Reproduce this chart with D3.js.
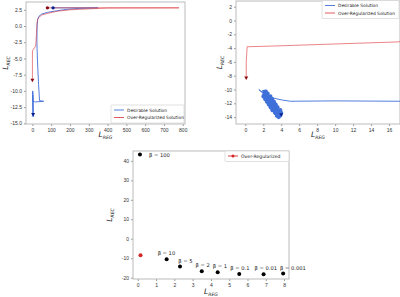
<!DOCTYPE html>
<html>
<head>
<meta charset="utf-8">
<script src="https://cdn.jsdelivr.net/npm/d3@7"></script>
<style>
  body { margin: 0; background: #fff; }
  svg { font-family: "DejaVu Sans", sans-serif; }
</style>
</head>
<body>
<svg id="drawing_region" width="400" height="297"></svg>
<script>
// trajectory points [L_REG, L_REC]
const desirablePath = [
  [110, 2.8], [350, 2.8], [250, 2.72], [180, 2.55], [130, 2.35], [80, 2.1], [50, 1.85],
  [35, 1.5], [28, 1.0], [25, 0], [24, -2.5], [25, -3.5], [28, -6], [33, -9], [38, -11.5],
  [60, -11.6], [17, -11.7], [10, -11.65], [5, -11.7], [4, -11.5], [3, -11.2], [2, -10.6],
  [1.5, -10], [1.9, -10.4]
];
// the noisy end of the desirable run (drawn thicker)
const desirableBand = [
  [1.9, -10.4], [2.3, -10.3], [2.0, -11.0], [2.5, -10.6], [2.2, -11.4],
  [2.8, -11.0], [2.4, -11.8], [3.0, -11.4], [2.6, -12.2], [3.2, -11.8], [2.8, -12.6],
  [3.4, -12.2], [3.0, -13.0], [3.6, -12.6], [3.3, -13.4], [3.9, -13.0], [3.5, -13.8],
  [4.0, -13.4], [3.7, -14.0], [4.0, -13.6]
];
const overRegPath = [
  [80, 2.8], [780, 2.8], [400, 2.78], [200, 2.5], [140, 2.3], [95, 2.05], [50, 1.7],
  [30, 1.2], [25, 0.5], [22, -1], [19, -2.5], [17, -3.1], [10, -3.4], [3, -3.7],
  [0.2, -3.8], [0.1, -6], [0.1, -8.3]
];

// beta sweep
const betaLabels = ['β = 100', 'β = 10', 'β = 5', 'β = 2', 'β = 1', 'β = 0.1', 'β = 0.01', 'β = 0.001'];
const betaReg = [0.12, 1.58, 2.31, 3.5, 4.37, 5.55, 6.88, 7.95];
const betaRec = [43.3, -10.5, -14.3, -16.7, -17.2, -18.1, -18.3, -17.9];
const overRegPoint = [0.15, -8.5];

const ticks1x = [0, 100, 200, 300, 400, 500, 600, 700, 800];
const ticks1y = [2.5, 0, -2.5, -5, -7.5, -10, -12.5, -15];
const ticks2x = [0, 2, 4, 6, 8, 10, 12, 14, 16];
const ticks2y = [2, 0, -2, -4, -6, -8, -10, -12, -14];
const ticks3x = [0, 1, 2, 3, 4, 5, 6, 7, 8];
const ticks3y = [40, 30, 20, 10, 0, -10, -20];

const BLUE = '#3f6fd9', RED = '#e0474c';
const svg = d3.select('#drawing_region');

function makePanel(cfg) {
  const g = svg.append('g');
  const x = d3.scaleLinear().domain(cfg.xDomain).range([cfg.left, cfg.right]);
  const y = d3.scaleLinear().domain(cfg.yDomain).range([cfg.bottom, cfg.top]);

  const xAxis = g.append('g')
    .attr('transform', `translate(0,${cfg.bottom})`)
    .call(d3.axisBottom(x).tickValues(cfg.xTicks).tickSize(2).tickPadding(2).tickFormat(cfg.xFmt || d3.format('d')));
  const yAxis = g.append('g')
    .attr('transform', `translate(${cfg.left},0)`)
    .call(d3.axisLeft(y).tickValues(cfg.yTicks).tickSize(2).tickPadding(2).tickFormat(cfg.yFmt || d3.format('d')));
  [xAxis, yAxis].forEach(a => {
    a.select('.domain').remove();
    a.selectAll('line').attr('stroke', '#555').attr('stroke-width', 0.6);
    a.selectAll('text').attr('font-size', 5).attr('fill', '#333')
      .text(function () { return d3.select(this).text().replace('−', '-'); });
  });

  g.append('rect')
    .attr('x', cfg.left).attr('y', cfg.top)
    .attr('width', cfg.right - cfg.left).attr('height', cfg.bottom - cfg.top)
    .attr('fill', 'none').attr('stroke', '#bbb').attr('stroke-width', 1);

  const clipId = 'clip' + cfg.id;
  g.append('clipPath').attr('id', clipId).append('rect')
    .attr('x', cfg.left).attr('y', cfg.top)
    .attr('width', cfg.right - cfg.left).attr('height', cfg.bottom - cfg.top);
  const plot = g.append('g').attr('clip-path', `url(#${clipId})`);

  // axis titles
  const yl = g.append('text')
    .attr('transform', `translate(${cfg.yLabelX},${(cfg.top + cfg.bottom) / 2}) rotate(-90)`)
    .attr('text-anchor', 'middle').attr('fill', '#222');
  yl.append('tspan').attr('font-style', 'italic').attr('font-size', 7.5).text('L');
  yl.append('tspan').attr('font-style', 'italic').attr('font-size', 4.6).attr('dy', 1.5).text('REC');
  const xl = g.append('text')
    .attr('x', (cfg.left + cfg.right) / 2).attr('y', cfg.xLabelY)
    .attr('text-anchor', 'middle').attr('fill', '#222');
  xl.append('tspan').attr('font-style', 'italic').attr('font-size', 7.5).text('L');
  xl.append('tspan').attr('font-style', 'italic').attr('font-size', 4.6).attr('dy', 1.5).text('REG');

  return { g, plot, x, y };
}

function drawTrajectories(p, showStart, bandWidth) {
  const line = d3.line().x(d => p.x(d[0])).y(d => p.y(d[1]));
  p.plot.append('path').datum(desirablePath)
    .attr('d', line).attr('fill', 'none').attr('stroke', BLUE)
    .attr('stroke-width', 0.9).attr('stroke-linejoin', 'round');
  p.plot.append('path').datum(desirableBand)
    .attr('d', line).attr('fill', 'none').attr('stroke', BLUE)
    .attr('stroke-width', bandWidth).attr('stroke-linejoin', 'round');
  p.plot.append('path').datum(overRegPath)
    .attr('d', line).attr('fill', 'none').attr('stroke', RED).attr('stroke-opacity', 0.75)
    .attr('stroke-width', 0.9).attr('stroke-linejoin', 'round');

  const ends = [
    { first: desirablePath[0], last: desirableBand[desirableBand.length - 1], c: '#0a1f8f' },
    { first: overRegPath[0], last: overRegPath[overRegPath.length - 1], c: '#8b0a14' }
  ];
  ends.forEach(e => {
    p.plot.append('path')
      .attr('d', d3.symbol(d3.symbolTriangle, 7)())
      .attr('transform', `translate(${p.x(e.last[0])},${p.y(e.last[1])}) rotate(180)`)
      .attr('fill', e.c);
    if (showStart) {
      p.plot.append('circle')
        .attr('cx', p.x(e.first[0])).attr('cy', p.y(e.first[1])).attr('r', 1.7)
        .attr('fill', e.c);
    }
  });
}

function legend(g, x0, y0, w, items, fs) {
  const h = items.length * 7.5 + 3;
  g.append('rect').attr('x', x0).attr('y', y0).attr('width', w).attr('height', h)
    .attr('fill', '#fff').attr('stroke', '#ccc').attr('stroke-width', 0.6).attr('rx', 1);
  items.forEach((it, i) => {
    const yy = y0 + 5 + i * 7.5;
    g.append('line').attr('x1', x0 + 3).attr('x2', x0 + 13).attr('y1', yy).attr('y2', yy)
      .attr('stroke', it.color).attr('stroke-width', 0.9);
    if (it.marker) {
      g.append('circle').attr('cx', x0 + 8).attr('cy', yy).attr('r', 1.5).attr('fill', it.color);
    }
    g.append('text').attr('x', x0 + 16).attr('y', yy + 1.6).attr('font-size', fs)
      .attr('fill', '#222').text(it.label);
  });
}

// panel 1: full trajectories
const p1 = makePanel({
  id: 1, left: 26, right: 185, top: 2, bottom: 124,
  xDomain: [-34, 812], yDomain: [-15.1, 3.7],
  xTicks: ticks1x, yTicks: ticks1y, yFmt: d3.format('.1f'),
  yLabelX: 8, xLabelY: 137
});
drawTrajectories(p1, true, 0.9);
legend(p1.g, 111, 105, 73, [
  { label: 'Desirable Solution', color: BLUE },
  { label: 'Over-Regularized Solution', color: RED }
], 4.4);

// panel 2: zoom near the origin
const p2 = makePanel({
  id: 2, left: 236, right: 400, top: 1, bottom: 124,
  xDomain: [-1.04, 17.22], yDomain: [-15, 2.83],
  xTicks: ticks2x, yTicks: ticks2y,
  yLabelX: 222, xLabelY: 137
});
drawTrajectories(p2, false, 4);
legend(p2.g, 322, 0.5, 77, [
  { label: 'Desirable Solution', color: BLUE },
  { label: 'Over-Regularized Solution', color: RED }
], 4.4);

// panel 3: beta sweep
const p3 = makePanel({
  id: 3, left: 133, right: 289, top: 151, bottom: 279,
  xDomain: [-0.26, 8.27], yDomain: [-20.7, 45.1],
  xTicks: ticks3x, yTicks: ticks3y,
  yLabelX: 112, xLabelY: 294
});
p3.plot.selectAll('circle.beta')
  .data(betaReg).enter().append('circle')
  .attr('class', 'beta')
  .attr('cx', d => p3.x(d)).attr('cy', (d, i) => p3.y(betaRec[i])).attr('r', 2)
  .attr('fill', '#000');
p3.plot.append('circle')
  .attr('cx', p3.x(overRegPoint[0])).attr('cy', p3.y(overRegPoint[1])).attr('r', 2)
  .attr('fill', '#d62728');

// labels sit above-left of each point, pushed right if they would collide
let prevEnd = -Infinity;
p3.g.selectAll('text.beta')
  .data(betaLabels).enter().append('text')
  .attr('class', 'beta')
  .attr('font-size', 5.2).attr('fill', '#222')
  .text(d => d)
  .each(function (d, i) {
    const t = d3.select(this);
    const px = p3.x(betaReg[i]), py = p3.y(betaRec[i]);
    if (i === 0) {
      t.attr('x', px + 9).attr('y', py + 2);
      return;
    }
    let lx = Math.max(px - 9, prevEnd + 3);
    t.attr('x', lx).attr('y', py - 4);
    prevEnd = lx + this.getComputedTextLength();
  });
legend(p3.g, 225, 151, 64, [
  { label: 'Over-Regularized', color: '#d62728', marker: true }
], 4.6);
</script>
</body>
</html>
